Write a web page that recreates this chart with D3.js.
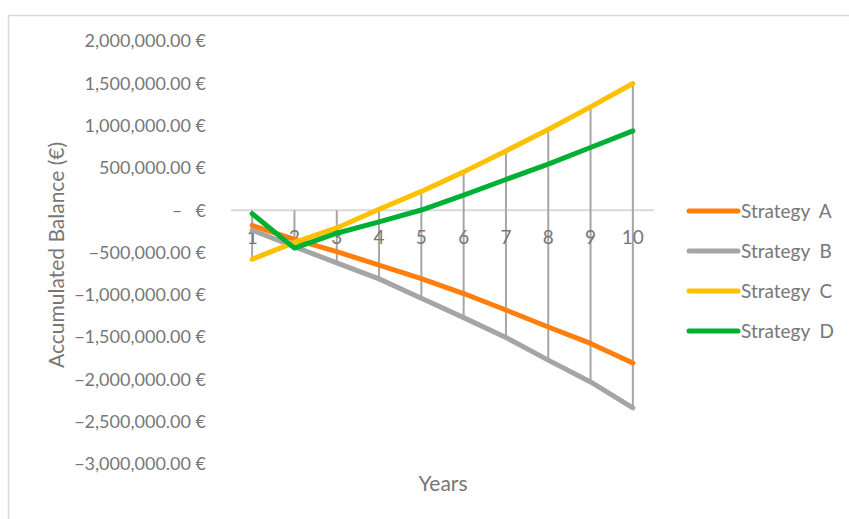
<!DOCTYPE html>
<html>
<head>
<meta charset="utf-8">
<script src="https://cdn.jsdelivr.net/npm/d3@7"></script>
<style>
  html, body { margin: 0; padding: 0; background: #fff; }
  svg { display: block; }
  text { font-family: Lato, "Open Sans", sans-serif; fill: #777; }
</style>
</head>
<body>
<svg id="chart" width="849" height="519"></svg>
<script>
// Accumulated balance per strategy over a 10-year horizon (EUR)
const years = [1, 2, 3, 4, 5, 6, 7, 8, 9, 10];
const strategyA = [-180000, -345000, -490000, -648000, -810000, -985000, -1180000, -1380000, -1575000, -1805000];
const strategyB = [-236000, -432000, -622000, -812000, -1040000, -1270000, -1505000, -1772000, -2030000, -2336000];
const strategyC = [-580000, -380000, -210000, 12000, 222000, 453000, 701000, 954000, 1221000, 1497000];
const strategyD = [-42000, -448000, -272000, -138000, 2000, 177000, 363000, 544000, 741000, 937000];
const seriesNames = ["Strategy  A", "Strategy  B", "Strategy  C", "Strategy  D"];
const seriesColors = ["#ff7f0e", "#a5a5a5", "#ffc000", "#00b034"];
const yTicks = [2000000, 1500000, 1000000, 500000, 0, -500000, -1000000, -1500000, -2000000, -2500000, -3000000];

const series = [strategyA, strategyB, strategyC, strategyD].map((vals, i) => ({
  name: seriesNames[i], color: seriesColors[i], values: vals
}));

const svg = d3.select("#chart");

// chart frame
svg.append("rect")
  .attr("x", 8.5).attr("y", 15.5).attr("width", 900).attr("height", 600)
  .attr("fill", "none").attr("stroke", "#d9d9d9").attr("stroke-width", 1.5);

const x = d3.scaleBand().domain(years).range([231, 654]);
const y = d3.scaleLinear().domain([-3000000, 2000000]).range([464, 41]);
const cx = d => x(d) + x.bandwidth() / 2;

// value axis labels (accounting format)
const fmt = d3.format(",.2f");
const yAxis = svg.append("g");
yTicks.forEach(t => {
  if (t === 0) {
    yAxis.append("text").attr("x", 177).attr("y", y(t)).attr("dy", "0.35em")
      .attr("text-anchor", "middle").attr("font-size", 18).text("–");
    yAxis.append("text").attr("x", 206).attr("y", y(t)).attr("dy", "0.35em")
      .attr("text-anchor", "end").attr("font-size", 18).text("€");
  } else {
    const s = (t < 0 ? "−" : "") + fmt(Math.abs(t)) + " €";
    yAxis.append("text").attr("x", 206).attr("y", y(t)).attr("dy", "0.35em")
      .attr("text-anchor", "end").attr("font-size", 18).text(s);
  }
});

// axis titles
svg.append("text")
  .attr("transform", `translate(64,255) rotate(-90)`)
  .attr("text-anchor", "middle").attr("font-size", 21)
  .text("Accumulated Balance (€)");
svg.append("text")
  .attr("x", 443).attr("y", 491).attr("text-anchor", "middle").attr("font-size", 21)
  .text("Years");

// zero baseline
svg.append("line")
  .attr("x1", x.range()[0]).attr("x2", x.range()[1])
  .attr("y1", y(0)).attr("y2", y(0))
  .attr("stroke", "#d9d9d9").attr("stroke-width", 2);

// high-low lines spanning every series (and the axis) at each year
const hl = svg.append("g");
years.forEach((yr, i) => {
  const ext = d3.extent([0, ...series.map(s => s.values[i])]);
  hl.append("line")
    .attr("x1", cx(yr)).attr("x2", cx(yr))
    .attr("y1", y(ext[1])).attr("y2", y(ext[0]))
    .attr("stroke", "#a6a6a6").attr("stroke-width", 2);
});

// category labels
svg.append("g").selectAll("text").data(years).join("text")
  .attr("x", d => cx(d)).attr("y", y(0) + 34)
  .attr("text-anchor", "middle").attr("font-size", 19)
  .text(d => d);

// series lines
const line = d3.line().x((d, i) => cx(years[i])).y(d => y(d));
svg.append("g").selectAll("path").data(series).join("path")
  .attr("d", d => line(d.values))
  .attr("fill", "none").attr("stroke", d => d.color)
  .attr("stroke-width", 5).attr("stroke-linecap", "round").attr("stroke-linejoin", "round");

// legend
const lg = svg.append("g").selectAll("g").data(series).join("g")
  .attr("transform", (d, i) => `translate(689,${211 + i * 40})`);
lg.append("line").attr("x1", 0).attr("x2", 49).attr("y1", 0).attr("y2", 0)
  .attr("stroke", d => d.color).attr("stroke-width", 5).attr("stroke-linecap", "round");
lg.append("text").attr("x", 52).attr("y", 0).attr("dy", "0.35em")
  .attr("font-size", 19).attr("xml:space", "preserve").style("white-space", "pre")
  .text(d => d.name);
</script>
</body>
</html>
